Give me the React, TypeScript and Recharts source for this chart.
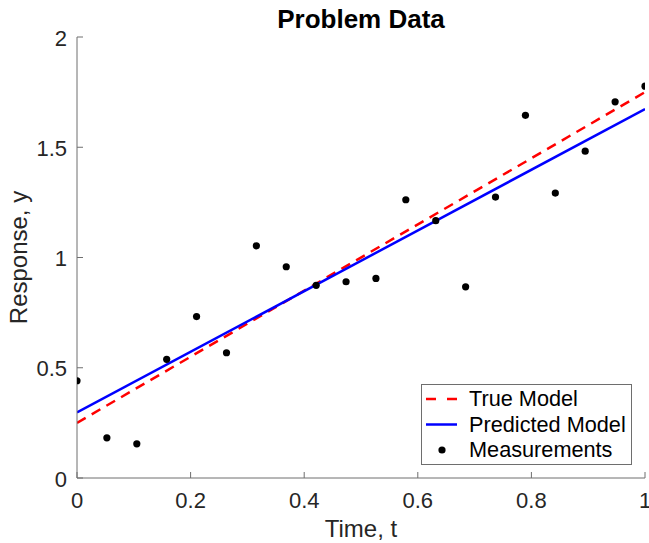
import React from 'react';
import { ComposedChart, Line, Scatter, XAxis, YAxis, Legend, Customized } from 'recharts';

const timeValues = [0, 0.0526, 0.1053, 0.1579, 0.2105, 0.2632, 0.3158, 0.3684, 0.4211, 0.4737, 0.5263, 0.5789, 0.6316, 0.6842, 0.7368, 0.7895, 0.8421, 0.8947, 0.9474, 1];
const measuredValues = [0.441, 0.182, 0.155, 0.538, 0.732, 0.568, 1.053, 0.958, 0.874, 0.89, 0.905, 1.262, 1.167, 0.867, 1.274, 1.645, 1.292, 1.482, 1.706, 1.777];
const trueModelT = [0, 1];
const trueModelY = [0.25, 1.75];
const predictedModelT = [0, 1];
const predictedModelY = [0.297, 1.673];
const xTicks = [0, 0.2, 0.4, 0.6, 0.8, 1];
const yTicks = [0, 0.5, 1, 1.5, 2];

const measurements = timeValues.map((t, i) => ({ t, y: measuredValues[i] }));
const trueModel = trueModelT.map((t, i) => ({ t, y: trueModelY[i] }));
const predictedModel = predictedModelT.map((t, i) => ({ t, y: predictedModelY[i] }));

const FONT = '"Liberation Sans", Arial, Helvetica, sans-serif';
const AXIS = '#262626';
const AXIS_LINE = '#6e6e6e';

const XTick = (props: any) => {
  const { x, y, payload } = props;
  return (
    <g>
      <line x1={x} y1={y} x2={x} y2={y - 6} stroke={AXIS_LINE} strokeWidth={1} />
      <text x={x} y={y + 30} textAnchor="middle" fontSize={22} fontFamily={FONT} fill={AXIS}>
        {String(payload.value)}
      </text>
    </g>
  );
};

const YTick = (props: any) => {
  const { x, y, payload } = props;
  return (
    <g>
      <line x1={x} y1={y} x2={x + 6} y2={y} stroke={AXIS_LINE} strokeWidth={1} />
      <text x={x - 10} y={y + 8.5} textAnchor="end" fontSize={22} fontFamily={FONT} fill={AXIS}>
        {String(payload.value)}
      </text>
    </g>
  );
};

const XLabel = (props: any) => {
  const vb = props.viewBox || {};
  return (
    <text x={vb.x + vb.width / 2} y={vb.y + 59} textAnchor="middle" fontSize={24} fontFamily={FONT} fill={AXIS}>
      Time, t
    </text>
  );
};

const YLabel = (props: any) => {
  const vb = props.viewBox || {};
  const cx = 27;
  const cy = vb.y + vb.height / 2;
  return (
    <text x={cx} y={cy} transform={`rotate(-90, ${cx}, ${cy})`} textAnchor="middle" fontSize={24} fontFamily={FONT} fill={AXIS}>
      Response, y
    </text>
  );
};

const Title = () => (
  <text x={361} y={28} textAnchor="middle" fontSize={26} fontWeight="bold" fontFamily={FONT} fill="#000">
    Problem Data
  </text>
);

const LegendBox = () => (
  <svg width={212} height={82} style={{ display: 'block' }}>
    <rect x={0.5} y={0.5} width={210} height={80} fill="#fff" stroke={AXIS_LINE} strokeWidth={1} />
    <line x1={5} x2={36} y1={15} y2={15} stroke="#ff0000" strokeWidth={2.5} strokeDasharray="10 11" />
    <text x={48} y={22} fontSize={21.7} fontFamily={FONT} fill="#000">True Model</text>
    <line x1={5} x2={36} y1={40.5} y2={40.5} stroke="#0000ff" strokeWidth={2.5} />
    <text x={48} y={48} fontSize={21.7} fontFamily={FONT} fill="#000">Predicted Model</text>
    <circle cx={21} cy={66} r={3.6} fill="#000" />
    <text x={48} y={73} fontSize={21.7} fontFamily={FONT} fill="#000">Measurements</text>
  </svg>
);

const Dot = (props: any) => <circle cx={props.cx} cy={props.cy} r={3.6} fill="#000" />;

export default function App() {
  return (
    <div style={{ position: 'absolute', left: 0, top: 0, width: 649, height: 543, background: '#fff' }}>
      <ComposedChart width={649} height={543} margin={{ top: 37, right: 4, bottom: 0, left: 0 }}>
        <XAxis
          type="number"
          dataKey="t"
          domain={[0, 1]}
          ticks={xTicks}
          height={65}
          tickSize={0}
          tickMargin={0}
          tickLine={false}
          axisLine={{ stroke: AXIS_LINE, strokeWidth: 1 }}
          tick={<XTick />}
          label={<XLabel />}
          allowDataOverflow
        />
        <YAxis
          type="number"
          dataKey="y"
          domain={[0, 2]}
          ticks={yTicks}
          width={77}
          tickSize={0}
          tickMargin={0}
          tickLine={false}
          axisLine={{ stroke: AXIS_LINE, strokeWidth: 1 }}
          tick={<YTick />}
          label={<YLabel />}
          allowDataOverflow
        />
        <Line
          data={trueModel}
          dataKey="y"
          type="linear"
          stroke="#ff0000"
          strokeWidth={2.5}
          strokeDasharray="10 7"
          dot={false}
          activeDot={false}
          isAnimationActive={false}
          legendType="none"
        />
        <Line
          data={predictedModel}
          dataKey="y"
          type="linear"
          stroke="#0000ff"
          strokeWidth={2.5}
          dot={false}
          activeDot={false}
          isAnimationActive={false}
          legendType="none"
        />
        <Scatter data={measurements} dataKey="y" shape={<Dot />} isAnimationActive={false} legendType="none" />
        <Legend
          layout="vertical"
          align="center"
          verticalAlign="middle"
          content={<LegendBox />}
          wrapperStyle={{ position: 'absolute', left: 421, top: 384, width: 212, height: 82 }}
        />
        <Customized component={Title} />
      </ComposedChart>
    </div>
  );
}
